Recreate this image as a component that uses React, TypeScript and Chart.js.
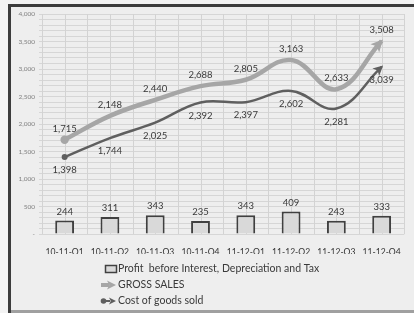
import React, { useEffect, useRef } from 'react';
import { Chart, registerables } from 'chart.js';

Chart.register(...registerables);

const categories = ['10-11-Q1', '10-11-Q2', '10-11-Q3', '10-11-Q4', '11-12-Q1', '11-12-Q2', '11-12-Q3', '11-12-Q4'];
const profit = [244, 311, 343, 235, 343, 409, 243, 333];
const grossSales = [1715, 2148, 2440, 2688, 2805, 3163, 2633, 3508];
const cogs = [1398, 1744, 2025, 2392, 2397, 2602, 2281, 3039];
const seriesNames = ['Profit  before Interest, Depreciation and Tax', 'GROSS SALES', 'Cost of goods sold'];
const yMax = 4000;
const yMinorStep = 100;
const yLabelStep = 500;

const FONT = 'Lato, "Open Sans", sans-serif';
const TEXT = '#3a3a3a';
const BAR_FILL = '#d9d9d9';
const BAR_EDGE = '#404040';
const GS_COLOR = '#a6a6a6';
const COGS_COLOR = '#5f5f5f';

const fmt = (v: number) => v.toLocaleString('en-US');

const framePlugin = {
  id: 'frame',
  beforeDraw(chart: any) {
    const { ctx, width, height } = chart;
    ctx.save();
    ctx.fillStyle = '#f3f3f3';
    ctx.fillRect(0, 0, width, height);
    ctx.fillStyle = '#eeeeee';
    ctx.fillRect(8, 4, width - 8, height - 4);
    ctx.fillStyle = '#a0a0a0';
    ctx.fillRect(8, height - 3, width - 8, 3);
    ctx.fillStyle = '#3c3c3c';
    ctx.fillRect(8, 4, width - 8, 3);
    ctx.fillRect(8, 4, 3, height - 4);
    ctx.restore();
  },
};

const vGridPlugin = {
  id: 'vgrid',
  beforeDatasetsDraw(chart: any) {
    const { ctx, chartArea } = chart;
    const n = categories.length;
    const w = (chartArea.right - chartArea.left) / n;
    ctx.save();
    ctx.strokeStyle = '#d3d3d3';
    ctx.lineWidth = 1;
    for (let i = 0; i <= n * 2; i++) {
      const x = Math.round(chartArea.left + (i * w) / 2) + 0.5;
      ctx.beginPath();
      ctx.moveTo(x, chartArea.top);
      ctx.lineTo(x, chartArea.bottom);
      ctx.stroke();
    }
    ctx.restore();
  },
};

function drawArrowHead(ctx: any, x: number, y: number, dx: number, dy: number, len: number, half: number, color: string) {
  const d = Math.hypot(dx, dy) || 1;
  const ux = dx / d;
  const uy = dy / d;
  const tx = x + ux * 2;
  const ty = y + uy * 2;
  const bx = tx - ux * len;
  const by = ty - uy * len;
  ctx.beginPath();
  ctx.moveTo(tx, ty);
  ctx.lineTo(bx - uy * half, by + ux * half);
  ctx.lineTo(bx + ux * len * 0.25, by + uy * len * 0.25);
  ctx.lineTo(bx + uy * half, by - ux * half);
  ctx.closePath();
  ctx.fillStyle = color;
  ctx.fill();
}

const decorPlugin = {
  id: 'decor',
  afterDatasetsDraw(chart: any) {
    const { ctx } = chart;
    ctx.save();
    [1, 2].forEach((di) => {
      const meta = chart.getDatasetMeta(di);
      const pts = meta.data;
      const last = pts[pts.length - 1];
      const prev = pts[pts.length - 2];
      let dx = last.x - (last.cp1x ?? prev.x);
      let dy = last.y - (last.cp1y ?? prev.y);
      if (Math.hypot(dx, dy) < 0.5) {
        dx = last.x - prev.x;
        dy = last.y - prev.y;
      }
      if (di === 1) drawArrowHead(ctx, last.x, last.y, dx, dy, 12, 6, GS_COLOR);
      else drawArrowHead(ctx, last.x, last.y, dx, dy, 10, 5, COGS_COLOR);
    });
    ctx.fillStyle = TEXT;
    ctx.textAlign = 'center';
    ctx.textBaseline = 'middle';
    ctx.font = `9.5px ${FONT}`;
    chart.getDatasetMeta(0).data.forEach((el: any, i: number) => {
      ctx.fillText(fmt(profit[i]), el.x, el.y - 9);
    });
    ctx.font = `9.5px ${FONT}`;
    chart.getDatasetMeta(1).data.forEach((el: any, i: number) => {
      ctx.fillText(fmt(grossSales[i]), el.x, el.y - 11);
    });
    chart.getDatasetMeta(2).data.forEach((el: any, i: number) => {
      ctx.fillText(fmt(cogs[i]), el.x, el.y + 13);
    });
    ctx.restore();
  },
  afterDraw(chart: any) {
    const { ctx } = chart;
    ctx.save();
    const textX = 118;
    const rows = [269, 285, 301];
    ctx.fillStyle = BAR_FILL;
    ctx.fillRect(105.5, 265.5, 11, 7);
    ctx.strokeStyle = BAR_EDGE;
    ctx.lineWidth = 1.5;
    ctx.strokeRect(105.5, 265.5, 11, 7);
    ctx.strokeStyle = GS_COLOR;
    ctx.lineWidth = 4;
    ctx.beginPath();
    ctx.moveTo(101, rows[1]);
    ctx.lineTo(109, rows[1]);
    ctx.stroke();
    drawArrowHead(ctx, 114, rows[1], 1, 0, 9, 4.5, GS_COLOR);
    ctx.strokeStyle = COGS_COLOR;
    ctx.lineWidth = 2;
    ctx.beginPath();
    ctx.moveTo(103, rows[2]);
    ctx.lineTo(110, rows[2]);
    ctx.stroke();
    ctx.fillStyle = COGS_COLOR;
    ctx.beginPath();
    ctx.arc(103.5, rows[2], 2.8, 0, Math.PI * 2);
    ctx.fill();
    drawArrowHead(ctx, 114, rows[2], 1, 0, 7, 3.5, COGS_COLOR);
    ctx.fillStyle = TEXT;
    ctx.font = `10.5px ${FONT}`;
    ctx.textAlign = 'left';
    ctx.textBaseline = 'middle';
    seriesNames.forEach((name, i) => ctx.fillText(name, textX, rows[i]));
    ctx.restore();
  },
};

export default function App() {
  const ref = useRef<HTMLCanvasElement | null>(null);
  useEffect(() => {
    document.body.style.margin = '0';
    const canvas = ref.current;
    if (!canvas) return;
    const chart = new Chart(canvas, {
      type: 'bar',
      data: {
        labels: categories,
        datasets: [
          {
            type: 'bar',
            label: seriesNames[0],
            data: profit,
            backgroundColor: BAR_FILL,
            borderColor: BAR_EDGE,
            borderWidth: 2,
            categoryPercentage: 0.8,
            barPercentage: 0.52,
            order: 3,
          } as any,
          {
            type: 'line',
            label: seriesNames[1],
            data: grossSales,
            borderColor: GS_COLOR,
            backgroundColor: GS_COLOR,
            borderWidth: 4.5,
            tension: 0.4,
            pointRadius: grossSales.map((_, i) => (i === 0 ? 4.2 : 0)),
            pointBorderWidth: 0,
            order: 1,
          },
          {
            type: 'line',
            label: seriesNames[2],
            data: cogs,
            borderColor: COGS_COLOR,
            backgroundColor: COGS_COLOR,
            borderWidth: 2.5,
            tension: 0.4,
            pointRadius: cogs.map((_, i) => (i === 0 ? 3 : 0)),
            pointBorderWidth: 0,
            order: 2,
          },
        ],
      },
      options: {
        responsive: false,
        animation: false,
        layout: { padding: { left: 0, right: 1, top: 14, bottom: 59 } },
        plugins: {
          legend: { display: false },
          tooltip: { enabled: false },
        },
        scales: {
          x: {
            type: 'category',
            offset: true,
            grid: { display: false, drawTicks: false },
            border: { display: false },
            ticks: {
              color: '#333333',
              font: { family: FONT, size: 8.6 },
              padding: 13,
              maxRotation: 0,
              autoSkip: false,
            },
            afterFit: (s: any) => {
              s.height = 20;
            },
          },
          y: {
            min: 0,
            max: yMax,
            grid: { color: '#d6d6d6', lineWidth: 1, drawTicks: true, tickLength: 3 },
            border: { display: false },
            ticks: {
              stepSize: yMinorStep,
              maxTicksLimit: 100,
              autoSkip: false,
              color: '#808080',
              font: { family: FONT, size: 6.5 },
              padding: 4,
              callback: (v: any) => {
                const n = Number(v);
                if (n % yLabelStep !== 0) return '';
                return n === 0 ? '-' : fmt(n);
              },
            },
            afterFit: (s: any) => {
              s.width = 42;
            },
          },
        },
      },
      plugins: [framePlugin, vGridPlugin, decorPlugin],
    });
    return () => chart.destroy();
  }, []);
  return <canvas ref={ref} width={414} height={313} style={{ display: 'block' }} />;
}
